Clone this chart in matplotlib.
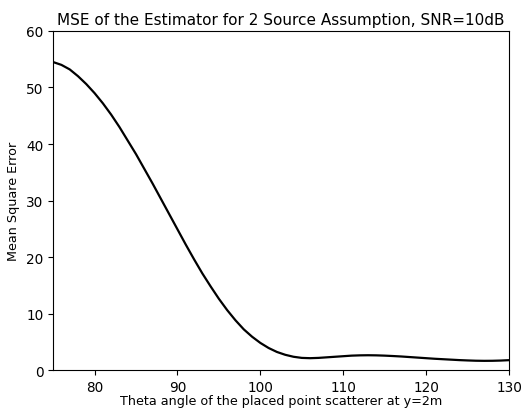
import matplotlib
matplotlib.use("Agg")
import matplotlib.pyplot as plt

theta = list(range(75, 131))
mse = [54.5, 54.0, 53.2, 52.0, 50.6, 49.0, 47.2, 45.2, 43.0, 40.6,
       38.2, 35.6, 33.0, 30.3, 27.6, 24.9, 22.2, 19.6, 17.1, 14.8,
       12.6, 10.6, 8.8, 7.2, 5.9, 4.8, 3.9, 3.2, 2.7, 2.35,
       2.15, 2.1, 2.15, 2.25, 2.35, 2.45, 2.55, 2.6, 2.62, 2.6,
       2.55, 2.48, 2.4, 2.3, 2.2, 2.1, 2.0, 1.92, 1.84, 1.76,
       1.7, 1.65, 1.63, 1.64, 1.68, 1.75]

fig = plt.figure(figsize=(5.21, 4.10), dpi=100)
ax = fig.add_axes([0.102, 0.095, 0.875, 0.827])
ax.plot(theta, mse, color="black", linewidth=1.6)
ax.set_xlim(75, 130)
ax.set_ylim(0, 60)
ax.set_xticks([80, 90, 100, 110, 120, 130])
ax.set_yticks([0, 10, 20, 30, 40, 50, 60])
ax.tick_params(labelsize=9.8)
ax.set_title("MSE of the Estimator for 2 Source Assumption, SNR=10dB", fontsize=11, pad=5)
ax.set_xlabel("Theta angle of the placed point scatterer at y=2m", fontsize=9.2, labelpad=0)
ax.set_ylabel("Mean Square Error", fontsize=9.2, labelpad=4)
fig.savefig("out.png", dpi=100)
